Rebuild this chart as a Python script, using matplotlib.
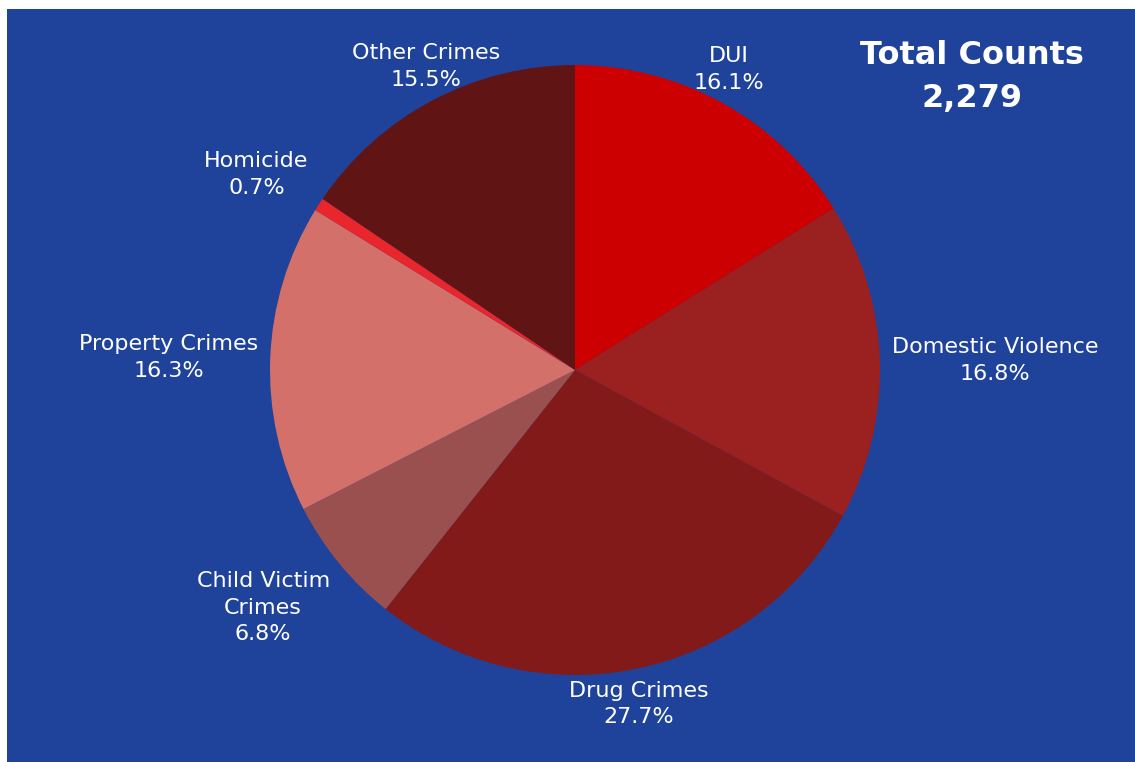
import numpy as np
import matplotlib.pyplot as plt
from matplotlib.patches import Rectangle

categories = ["DUI", "Domestic Violence", "Drug Crimes", "Child Victim\nCrimes",
              "Property Crimes", "Homicide", "Other Crimes"]
shares = [16.1, 16.8, 27.7, 6.8, 16.3, 0.7, 15.5]
colors = ["#CC0000", "#9B2020", "#821A1A", "#9B5050", "#D4706A", "#E8262B", "#611414"]
total_count = "2,279"

BG = "#1F439B"
FONT = "DejaVu Sans"

W, H = 1135, 762
fig = plt.figure(figsize=(W / 100, H / 100), dpi=100)
fig.patch.set_facecolor("white")
fig.patches.append(Rectangle((7 / W, 0), 1 - 7 / W, 1 - 9 / H, transform=fig.transFigure,
                             facecolor=BG, edgecolor="none", zorder=-1))

# pie centre (575, 370) px from top, radius 305 px
R = 305
lim = 1.4
side = 2 * lim * R
cx, cy = 575, H - 370
ax = fig.add_axes([(cx - side / 2) / W, (cy - side / 2) / H, side / W, side / H])

wedges, _ = ax.pie(shares, colors=colors, startangle=90, counterclock=False,
                   radius=1, wedgeprops=dict(linewidth=0))
ax.set_xlim(-lim, lim)
ax.set_ylim(-lim, lim)
ax.set_aspect("equal")
ax.axis("off")

for w, cat, val in zip(wedges, categories, shares):
    ang = np.deg2rad((w.theta1 + w.theta2) / 2)
    c, s = np.cos(ang), np.sin(ang)
    ha = "left" if c > 0.5 else ("right" if c < -0.5 else "center")
    va = "bottom" if s > 0.3 else ("top" if s < -0.3 else "center")
    r = 1.04
    ax.text(r * c, r * s, f"{cat}\n{val:.1f}%", ha=ha, va=va, color="white",
            multialignment="center", fontsize=16, family=FONT, linespacing=1.4,
            clip_on=False)

fig.text(972 / W, 1 - 77 / H, f"Total Counts\n{total_count}", ha="center", va="center",
         color="white", fontsize=23, fontweight="bold", family=FONT, linespacing=1.5)

fig.savefig("out.png", dpi=100)
